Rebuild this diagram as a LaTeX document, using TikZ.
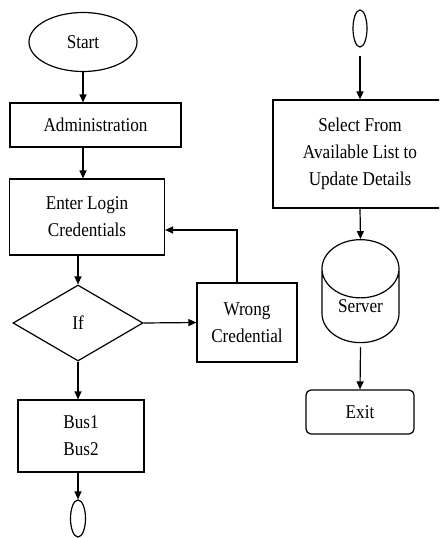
\documentclass[tikz,border=0pt]{standalone}
\usepackage{fontspec}
\setmainfont{Liberation Serif}[FakeStretch=0.88]
\usetikzlibrary{arrows.meta,shapes.geometric}

\begin{document}
\begin{tikzpicture}[>={Triangle[length=8pt,width=7pt]},x=1pt,y=-1pt,line width=1.2pt,
  font=\fontsize{19.5}{27}\selectfont,
  box/.style={draw,rectangle,align=center,inner sep=0pt},
  term/.style={draw,ellipse,inner sep=0pt}]
  \useasboundingbox (0,0) rectangle (439,538);
  \clip (0,0) rectangle (439,538);
  \node[term,minimum width=108pt,minimum height=59pt] (start) at (83,42) {Start};
  \node[box,minimum width=171pt,minimum height=44pt] (admin) at (95.5,125) {Administration};
  \node[box,minimum width=155pt,minimum height=76pt] (login) at (87,217) {Enter Login\\Credentials};
  \node[draw,diamond,aspect=1.71,inner sep=0pt,minimum width=130pt,minimum height=76pt] (ifnode) at (78,323) {If};
  \node[box,minimum width=100pt,minimum height=79pt] (wrong) at (247,322.5) {Wrong\\Credential};
  \node[box,minimum width=126pt,minimum height=72pt] (bus) at (81,436) {Bus1\\Bus2};
  \node[term,minimum width=15pt,minimum height=37pt] (endL) at (78,518.5) {};
  \node[term,minimum width=14pt,minimum height=37pt] (endR) at (360,28.5) {};
  \node[box,minimum width=174pt,minimum height=108pt] (select) at (360,154) {Select From\\Available List to\\Update Details};
  \node[draw,cylinder,shape border rotate=90,aspect=1.3,inner sep=0pt,minimum width=77pt,minimum height=103pt] (server) at (360.5,306) {Server};
  \node[box,rounded corners=5pt,minimum width=108pt,minimum height=44pt] (exit) at (360,412) {Exit};
  \draw[->] (start.south) -- (start.south |- admin.north);
  \draw[->] (admin.south -| start) -- (start |- login.north);
  \draw[->] (login.south -| ifnode) -- (ifnode.north);
  \draw[->] (ifnode.east) -- (wrong.west);
  \draw[->] ([xshift=-10pt]wrong.north) |- ([yshift=-13pt]login.east);
  \draw[->] (ifnode.south) -- (ifnode.south |- bus.north);
  \draw[->] (bus.south -| endL) -- (endL.north);
  \draw[->] ([yshift=-8pt]endR.south) -- (select.north);
  \draw[->] (select.south) -- (server.north);
  \draw[->] ([yshift=-4pt]server.south) -- (exit.north);
\end{tikzpicture}
\end{document}
